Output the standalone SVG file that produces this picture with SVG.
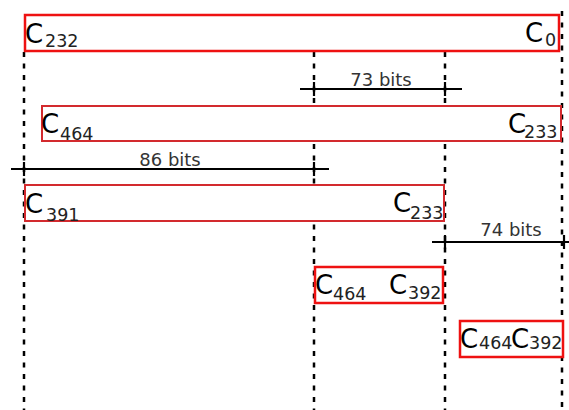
<svg xmlns="http://www.w3.org/2000/svg" width="569" height="410" viewBox="0 0 569 410">
<style>
.box{fill:#fff;stroke:#ee1111;stroke-width:2.5}
.box2{fill:#fff;stroke:#d32a2e;stroke-width:2}
.dash{stroke:#000;stroke-width:2.5;stroke-dasharray:5 6.5;fill:none}
.meas{stroke:#000;stroke-width:2.2;fill:none}
.c{font-family:"DejaVu Sans",sans-serif;font-size:26px;fill:#000}
.s{font-family:"DejaVu Sans",sans-serif;font-size:17.5px;fill:#222}
.lbl{font-family:"DejaVu Sans",sans-serif;font-size:18px;fill:#333;text-anchor:middle}
</style>
<rect width="569" height="410" fill="#fff"/>
<g id="connectors">
<line class="dash" x1="24" y1="52" x2="24" y2="410"/>
<line class="dash" x1="314" y1="52" x2="314" y2="410"/>
<line class="dash" x1="445" y1="52" x2="445" y2="410"/>
<line class="dash" x1="562" y1="11" x2="562" y2="410"/>
</g>
<g id="m73">
<line class="meas" x1="300" y1="89" x2="462" y2="89"/>
<line class="meas" x1="314" y1="82" x2="314" y2="96"/>
<line class="meas" x1="445" y1="82" x2="445" y2="96"/>
<text class="lbl" x="381" y="86">73 bits</text>
</g>
<g id="m86">
<line class="meas" x1="11" y1="169" x2="329" y2="169"/>
<line class="meas" x1="24" y1="162" x2="24" y2="176"/>
<line class="meas" x1="314" y1="162" x2="314" y2="176"/>
<text class="lbl" x="170" y="166">86 bits</text>
</g>
<g id="m74">
<line class="meas" x1="432" y1="242" x2="569" y2="242"/>
<line class="meas" x1="445" y1="235" x2="445" y2="249"/>
<line class="meas" x1="564" y1="235" x2="564" y2="249"/>
<text class="lbl" x="511" y="236">74 bits</text>
</g>
<g id="row1">
<rect class="box" x="25" y="15" width="534" height="36"/>
<text class="c" x="25" y="43">C</text><text class="s" x="45" y="47">232</text>
<text class="c" x="525" y="42">C</text><text class="s" x="545" y="46">0</text>
</g>
<g id="row2">
<rect class="box2" x="42" y="106" width="519" height="35"/>
<text class="c" x="41" y="133">C</text><text class="s" x="60" y="140">464</text>
<text class="c" x="508" y="133">C</text><text class="s" x="524" y="138">233</text>
</g>
<g id="row3">
<rect class="box2" x="25" y="185" width="419" height="36"/>
<text class="c" x="25" y="213">C</text><text class="s" x="46" y="221">391</text>
<text class="c" x="393" y="212">C</text><text class="s" x="410" y="219">233</text>
</g>
<g id="row4">
<rect class="box" x="315" y="267" width="128" height="36"/>
<text class="c" x="315" y="294">C</text><text class="s" x="333" y="300">464</text>
<text class="c" x="389" y="294">C</text><text class="s" x="408" y="299">392</text>
</g>
<g id="row5">
<rect class="box" x="460" y="321" width="103" height="36"/>
<text class="c" x="460" y="348">C</text><text class="s" x="479" y="349">464</text>
<text class="c" x="511" y="348">C</text><text class="s" x="529" y="349">392</text>
</g>
</svg>
